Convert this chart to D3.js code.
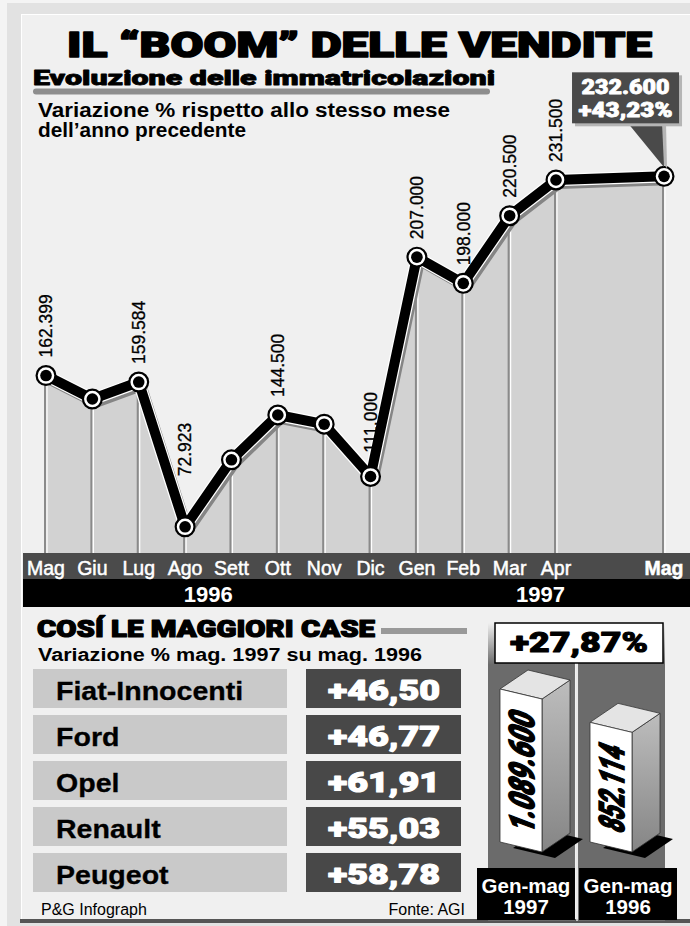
<!DOCTYPE html>
<html>
<head>
<meta charset="utf-8">
<script src="https://cdn.jsdelivr.net/npm/d3@7"></script>
<style>
  body { margin: 0; background: #f4f4f4; }
  svg { display: block; }
  text { font-family: "Liberation Sans", Arial, sans-serif; }
  .heavy { font-family: Roboto, "Liberation Sans", Arial, sans-serif; font-weight: 900; stroke-linejoin: round; }
</style>
</head>
<body>
<div id="chart"></div>
<script>
// DATI
const months = ["Mag", "Giu", "Lug", "Ago", "Sett", "Ott", "Nov", "Dic", "Gen", "Feb", "Mar", "Apr", "Mag"];
const years = ["1996", "1997"];
const registrations = [162399, 152000, 159584, 72923, 121000, 144500, 140000, 111000, 207000, 198000, 220500, 231500, 232600];
// Giu, Sett, Nov have no printed value in the original, so no label
const labelled = [true, false, true, true, false, true, false, true, true, true, true, true, false];
const lastChange = 43.23;

const makers = ["Fiat-Innocenti", "Ford", "Opel", "Renault", "Peugeot"];
const makerChange = [46.5, 46.77, 61.91, 55.03, 58.78];

const periods = ["1997", "1996"];
const periodTotals = [1089600, 852114];
const totalChange = 27.87;

const W = 690;
const H = 926;

const it = d3.formatLocale({ decimal: ",", thousands: ".", grouping: [3], currency: ["", " €"] });
const fmtInt = it.format(",d");
const fmtPct = it.format("+.2f");

const svg = d3
  .select("#chart")
  .append("svg")
  .attr("width", W)
  .attr("height", H);

const defs = svg.append("defs");

// testo "nero pesante": il font installato non ha il Black, lo ispessisco col contorno
function heavy(sel, color, sw) {
  return sel
    .attr("class", "heavy")
    .attr("fill", color)
    .attr("stroke", color)
    .attr("stroke-width", sw);
}

// Cornice esterna e pannello
svg.append("rect").attr("x", 7).attr("y", 3).attr("width", W - 7).attr("height", H - 3).attr("fill", "#e2e2e2");
svg.append("rect").attr("x", 21).attr("y", 14).attr("width", W - 21).attr("height", 908).attr("fill", "#ffffff");
svg.append("rect").attr("x", 22).attr("y", 15).attr("width", W - 22).attr("height", 904).attr("fill", "#f0f0f0");
svg.append("rect").attr("x", 20).attr("y", 919).attr("width", W - 20).attr("height", 4).attr("fill", "#555");

// Titoli
heavy(svg.append("text"), "#000", 1.6)
  .attr("x", 67).attr("y", 57)
  .attr("font-size", 35)
  .attr("textLength", 585)
  .attr("lengthAdjust", "spacingAndGlyphs")
  .text("IL \u201CBOOM\u201D DELLE VENDITE");

heavy(svg.append("text"), "#000", 0.8)
  .attr("x", 33).attr("y", 85)
  .attr("font-size", 20.5)
  .attr("textLength", 462)
  .attr("lengthAdjust", "spacingAndGlyphs")
  .text("Evoluzione delle immatricolazioni");

svg.append("line")
  .attr("x1", 36).attr("x2", 487)
  .attr("y1", 91.5).attr("y2", 91.5)
  .attr("stroke", "#8e8e8e")
  .attr("stroke-width", 6)
  .attr("stroke-linecap", "round");

svg.append("text")
  .attr("x", 38).attr("y", 117)
  .attr("font-size", 19.5)
  .attr("font-weight", "bold")
  .attr("textLength", 412)
  .attr("lengthAdjust", "spacingAndGlyphs")
  .text("Variazione % rispetto allo stesso mese");
svg.append("text")
  .attr("x", 38).attr("y", 137)
  .attr("font-size", 19.5)
  .attr("font-weight", "bold")
  .attr("textLength", 208)
  .attr("lengthAdjust", "spacingAndGlyphs")
  .text("dell\u2019anno precedente");

// GRAFICO A LINEA
const baseY = 553;
// the artwork leaves extra room before the latest month
const slot = (i) => (i < 12 ? i : i + 1.33);
const x = d3.scaleLinear().domain([0, 11]).range([46, 556]);
const y = d3.scalePow().exponent(2).domain([0, 250000]).range([565, 116]);

const pts = registrations.map((v, i) => ({ i, v, px: x(slot(i)), py: y(v) }));

// area grigia sotto la linea
const area = d3.area()
  .x((d) => d.px)
  .y0(baseY)
  .y1((d) => d.py + 5);

svg.append("path")
  .datum(pts)
  .attr("d", area)
  .attr("fill", "#d2d2d2");

// linee verticali in rilievo
svg.selectAll(".drop-dark")
  .data(pts)
  .join("line")
  .attr("class", "drop-dark")
  .attr("x1", (d) => d.px - 1).attr("x2", (d) => d.px - 1)
  .attr("y1", (d) => d.py + 6).attr("y2", baseY)
  .attr("stroke", "#8a8a8a")
  .attr("stroke-width", 2);

svg.selectAll(".drop-light")
  .data(pts)
  .join("line")
  .attr("class", "drop-light")
  .attr("x1", (d) => d.px + 1).attr("x2", (d) => d.px + 1)
  .attr("y1", (d) => d.py + 8).attr("y2", baseY)
  .attr("stroke", "#ffffff")
  .attr("stroke-width", 1.2);

const line = d3.line().x((d) => d.px).y((d) => d.py);

svg.append("path")
  .datum(pts)
  .attr("d", line)
  .attr("transform", "translate(3,4)")
  .attr("fill", "none")
  .attr("stroke", "#858585")
  .attr("stroke-width", 10)
  .attr("stroke-linejoin", "round");

svg.append("path")
  .datum(pts)
  .attr("d", line)
  .attr("fill", "none")
  .attr("stroke", "#ffffff")
  .attr("stroke-width", 12.5)
  .attr("stroke-linejoin", "round");

svg.append("path")
  .datum(pts)
  .attr("d", line)
  .attr("fill", "none")
  .attr("stroke", "#000")
  .attr("stroke-width", 10)
  .attr("stroke-linejoin", "round");

svg.selectAll(".dot")
  .data(pts)
  .join("circle")
  .attr("class", "dot")
  .attr("cx", (d) => d.px)
  .attr("cy", (d) => d.py)
  .attr("r", 9.4)
  .attr("fill", "#fff")
  .attr("stroke", "#000")
  .attr("stroke-width", 2.2);

svg.selectAll(".dot-core")
  .data(pts)
  .join("circle")
  .attr("class", "dot-core")
  .attr("cx", (d) => d.px)
  .attr("cy", (d) => d.py)
  .attr("r", 5.8)
  .attr("fill", "#000");

// etichette verticali: sollevate se la linea in arrivo passa sotto
function labelLift(d) {
  let lift = 18;
  if (d.i > 0) {
    const p = pts[d.i - 1];
    const slope = (d.py - p.py) / (d.px - p.px);
    if (slope > 0) {
      const yAt = d.py - 9 * slope - 5 * Math.sqrt(1 + slope * slope);
      lift = Math.max(lift, d.py - yAt + 6);
    }
  }
  return lift;
}

svg.selectAll(".val")
  .data(pts.filter((d) => labelled[d.i]))
  .join("text")
  .attr("class", "val")
  .attr("transform", (d) => `translate(${d.px},${d.py - labelLift(d)}) rotate(-90)`)
  .attr("dy", "0.36em")
  .attr("font-size", 17.5)
  .attr("fill", "#000")
  .attr("stroke", "#000")
  .attr("stroke-width", 0.3)
  .text((d) => fmtInt(d.v));

// riquadro dell'ultimo mese
const last = pts[pts.length - 1];
const boxW = 107;
const boxH = 51;
const bx = last.px + 15 - boxW;
const by = last.py - 53 - boxH;

svg.append("path")
  .attr("d", `M${bx + 56},${by + boxH} L${bx + 92},${by + boxH} L${last.px + 1},${last.py - 8} Z`)
  .attr("fill", "#b5b5b5")
  .attr("transform", "translate(2,0)");
svg.append("path")
  .attr("d", `M${bx + 56},${by + boxH} L${bx + 90},${by + boxH} L${last.px},${last.py - 9} Z`)
  .attr("fill", "#4a4a4a");
svg.append("rect")
  .attr("x", bx + 3).attr("y", by + 3)
  .attr("width", boxW).attr("height", boxH)
  .attr("fill", "#b5b5b5");
svg.append("rect")
  .attr("x", bx).attr("y", by)
  .attr("width", boxW).attr("height", boxH)
  .attr("fill", "#4a4a4a");
heavy(svg.append("text"), "#fff", 0.8)
  .attr("x", bx + boxW / 2).attr("y", by + 22)
  .attr("text-anchor", "middle")
  .attr("font-size", 20)
  .attr("textLength", 88)
  .attr("lengthAdjust", "spacingAndGlyphs")
  .text(fmtInt(last.v));
heavy(svg.append("text"), "#fff", 0.8)
  .attr("x", bx + boxW / 2).attr("y", by + 45)
  .attr("text-anchor", "middle")
  .attr("font-size", 20)
  .attr("textLength", 94)
  .attr("lengthAdjust", "spacingAndGlyphs")
  .text(fmtPct(lastChange) + "%");

// fascia dei mesi e degli anni
svg.append("rect").attr("x", 23).attr("y", baseY).attr("width", W - 23).attr("height", 26).attr("fill", "#4b4b4b");
svg.append("rect").attr("x", 23).attr("y", baseY + 26).attr("width", W - 23).attr("height", 28).attr("fill", "#000");

svg.selectAll(".month")
  .data(pts)
  .join("text")
  .attr("class", "month")
  .attr("x", (d) => d.px)
  .attr("y", baseY + 22)
  .attr("text-anchor", "middle")
  .attr("font-size", 19.5)
  .attr("font-weight", (d) => (d.i === pts.length - 1 ? "bold" : "normal"))
  .attr("fill", "#fff")
  .attr("stroke", "#fff")
  .attr("stroke-width", 0.5)
  .text((d) => months[d.i]);

// anno di ogni mese: cambia con "Gen"
let yi = 0;
const yearOf = months.map((m, i) => {
  if (i > 0 && m === "Gen") yi++;
  return yi;
});
svg.selectAll(".year")
  .data(years)
  .join("text")
  .attr("class", "year")
  .attr("x", (yr, k) => {
    const xs = pts.filter((d) => yearOf[d.i] === k).map((d) => d.px);
    return (d3.min(xs) + d3.max(xs)) / 2;
  })
  .attr("y", baseY + 49)
  .attr("text-anchor", "middle")
  .attr("font-size", 22)
  .attr("font-weight", "bold")
  .attr("fill", "#fff")
  .text((yr) => yr);

// TABELLA DELLE CASE
heavy(svg.append("text"), "#000", 1.2)
  .attr("x", 37).attr("y", 637)
  .attr("font-size", 24)
  .attr("textLength", 338)
  .attr("lengthAdjust", "spacingAndGlyphs")
  .text("COS\u00CD LE MAGGIORI CASE");
svg.append("rect")
  .attr("x", 381).attr("y", 628)
  .attr("width", 86).attr("height", 6)
  .attr("fill", "#999");
svg.append("text")
  .attr("x", 38).attr("y", 661)
  .attr("font-size", 18)
  .attr("font-weight", "bold")
  .attr("textLength", 384)
  .attr("lengthAdjust", "spacingAndGlyphs")
  .text("Variazione % mag. 1997 su mag. 1996");

const rowY = d3.scaleBand().domain(makers).range([669, 892]).paddingInner(0.152);

svg.selectAll(".maker-cell")
  .data(makers)
  .join("rect")
  .attr("class", "maker-cell")
  .attr("x", 33)
  .attr("y", (d) => rowY(d))
  .attr("width", 254)
  .attr("height", rowY.bandwidth())
  .attr("fill", "#c9c9c9");

svg.selectAll(".change-cell")
  .data(makers)
  .join("rect")
  .attr("class", "change-cell")
  .attr("x", 306)
  .attr("y", (d) => rowY(d))
  .attr("width", 155)
  .attr("height", rowY.bandwidth())
  .attr("fill", "#484848");

svg.selectAll(".maker-name")
  .data(makers)
  .join("text")
  .attr("class", "maker-name")
  .attr("transform", (d) => `translate(56,${rowY(d) + 31}) scale(1.12,1)`)
  .attr("font-size", 25.5)
  .attr("font-weight", "bold")
  .attr("stroke", "#000")
  .attr("stroke-width", 0.3)
  .text((d) => d);

heavy(svg.selectAll(".maker-change").data(makers).join("text"), "#fff", 1.1)
  .attr("x", 384)
  .attr("y", (d) => rowY(d) + 31)
  .attr("text-anchor", "middle")
  .attr("font-size", 28)
  .attr("textLength", 112)
  .attr("lengthAdjust", "spacingAndGlyphs")
  .text((d, i) => fmtPct(makerChange[i]));

svg.append("text")
  .attr("x", 41).attr("y", 915)
  .attr("font-size", 16)
  .text("P&G Infograph");
svg.append("text")
  .attr("x", 465).attr("y", 915)
  .attr("text-anchor", "end")
  .attr("font-size", 16)
  .text("Fonte: AGI");

// COLONNE 3D DEL TOTALE
const colX = d3.scaleBand().domain(periods).range([488, 665]).paddingInner(0.034);
const tagX = d3.scaleBand().domain(periods).range([477, 677]).paddingInner(0.04);
const barH = d3.scaleLinear().domain([0, periodTotals[0]]).range([0, 153]);

const grad = defs.append("linearGradient")
  .attr("id", "colFade")
  .attr("x1", 0).attr("x2", 0).attr("y1", 0).attr("y2", 1);
grad.append("stop").attr("offset", 0).attr("stop-color", "#f0f0f0");
grad.append("stop").attr("offset", 0.14).attr("stop-color", "#6b6b6b");
grad.append("stop").attr("offset", 1).attr("stop-color", "#6b6b6b");

const sideGrad = defs.append("linearGradient")
  .attr("id", "sideFade")
  .attr("x1", 0).attr("x2", 0).attr("y1", 0).attr("y2", 1);
sideGrad.append("stop").attr("offset", 0).attr("stop-color", "#bdbdbd");
sideGrad.append("stop").attr("offset", 1).attr("stop-color", "#858585");

svg.selectAll(".col")
  .data(periods)
  .join("rect")
  .attr("class", "col")
  .attr("x", (d) => colX(d))
  .attr("y", 623)
  .attr("width", colX.bandwidth())
  .attr("height", 298)
  .attr("fill", "url(#colFade)");

svg.append("line")
  .attr("x1", 577).attr("x2", 577)
  .attr("y1", 660).attr("y2", 921)
  .attr("stroke", "#e8e8e8")
  .attr("stroke-width", 1.5);

// parallelepipedi: ombra, fianco, cima, fronte
const faceW = [42, 10];
const depth = [28, -19];
const foot = 842;

const bars = svg.selectAll(".bar3d")
  .data(periods)
  .join("g")
  .attr("class", "bar3d");

bars.each(function (p, i) {
  const g = d3.select(this);
  const h = barH(periodTotals[i]);
  const x0 = colX(p) + 12;
  const FBL = [x0, foot];
  const FBR = [x0 + faceW[0], foot + faceW[1]];
  const BBR = [FBR[0] + depth[0], FBR[1] + depth[1]];
  const BBL = [FBL[0] + depth[0], FBL[1] + depth[1]];
  const up = (pt) => [pt[0], pt[1] - h];
  const shift = (pt) => [pt[0] + 13, pt[1] + 6];
  const poly = (list) => "M" + list.map((pt) => pt.join(",")).join("L") + "Z";

  g.append("path")
    .attr("d", poly([FBL, FBR, BBR, BBL].map(shift)))
    .attr("fill", "#000");
  g.append("path")
    .attr("d", poly([FBR, BBR, up(BBR), up(FBR)]))
    .attr("fill", "url(#sideFade)")
    .attr("stroke", "#333")
    .attr("stroke-width", 0.8);
  g.append("path")
    .attr("d", poly([up(FBL), up(FBR), up(BBR), up(BBL)]))
    .attr("fill", "#e4e4e4")
    .attr("stroke", "#333")
    .attr("stroke-width", 0.8);
  g.append("path")
    .attr("d", poly([FBL, FBR, up(FBR), up(FBL)]))
    .attr("fill", "#fff")
    .attr("stroke", "#333")
    .attr("stroke-width", 0.8);

  const cx = x0 + faceW[0] / 2;
  const cy = foot + faceW[1] / 2 - h / 2;
  const skew = (Math.atan2(faceW[1], faceW[0]) * 180) / Math.PI;
  heavy(g.append("text"), "#000", 1.6)
    .attr("transform", `translate(${cx},${cy}) skewY(${skew}) rotate(-90) skewX(-8)`)
    .attr("text-anchor", "middle")
    .attr("dy", "0.36em")
    .attr("font-size", 35)
    .attr("textLength", h - 34)
    .attr("lengthAdjust", "spacingAndGlyphs")
    .text(fmtInt(periodTotals[i]));
});

// riquadro della variazione totale
svg.append("rect")
  .attr("x", 495).attr("y", 623)
  .attr("width", 168).attr("height", 40)
  .attr("fill", "#fff")
  .attr("stroke", "#000")
  .attr("stroke-width", 1.5);
heavy(svg.append("text"), "#000", 1)
  .attr("x", 579).attr("y", 652)
  .attr("text-anchor", "middle")
  .attr("font-size", 27)
  .attr("textLength", 138)
  .attr("lengthAdjust", "spacingAndGlyphs")
  .text(fmtPct(totalChange) + "%");

// etichette Gen-mag
svg.selectAll(".tag")
  .data(periods)
  .join("rect")
  .attr("class", "tag")
  .attr("x", (d) => tagX(d))
  .attr("y", 868)
  .attr("width", tagX.bandwidth())
  .attr("height", 52)
  .attr("fill", "#000");

svg.selectAll(".tag-top")
  .data(periods)
  .join("text")
  .attr("class", "tag-top")
  .attr("x", (d) => tagX(d) + tagX.bandwidth() / 2)
  .attr("y", 893)
  .attr("text-anchor", "middle")
  .attr("font-size", 20.5)
  .attr("font-weight", "bold")
  .attr("fill", "#fff")
  .text("Gen-mag");

svg.selectAll(".tag-year")
  .data(periods)
  .join("text")
  .attr("class", "tag-year")
  .attr("x", (d) => tagX(d) + tagX.bandwidth() / 2)
  .attr("y", 914)
  .attr("text-anchor", "middle")
  .attr("font-size", 20.5)
  .attr("font-weight", "bold")
  .attr("fill", "#fff")
  .text((d) => d);
</script>
</body>
</html>
